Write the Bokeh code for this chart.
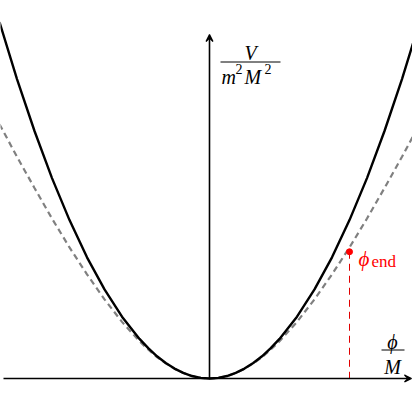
from bokeh.plotting import figure
from bokeh.models import Label, Arrow, VeeHead
from bokeh.embed import file_html
from bokeh.resources import INLINE

# --- data ---
phi = [-3.0, -2.75, -2.5, -2.25, -2.0, -1.75, -1.5, -1.25,
       -1.0, -0.875, -0.75, -0.625, -0.5, -0.375, -0.25, -0.125,
       0.0, 0.125, 0.25, 0.375, 0.5, 0.625, 0.75, 0.875, 1.0,
       1.25, 1.5, 1.75, 2.0, 2.25, 2.5, 2.75, 3.0]
V_solid = [9.0, 7.56, 6.25, 5.06, 4.0, 3.06, 2.25, 1.56,
           1.0, 0.766, 0.56, 0.391, 0.25, 0.141, 0.0625, 0.016,
           0.0, 0.016, 0.0625, 0.141, 0.25, 0.391, 0.56, 0.766, 1.0,
           1.56, 2.25, 3.06, 4.0, 5.06, 6.25, 7.56, 9.0]
V_dashed = [6.42, 5.60, 4.81, 4.04, 3.31, 2.63, 2.0, 1.43,
            0.94, 0.732, 0.54, 0.382, 0.246, 0.139, 0.062, 0.016,
            0.0, 0.016, 0.062, 0.139, 0.246, 0.382, 0.54, 0.732, 0.94,
            1.43, 2.0, 2.63, 3.31, 4.04, 4.81, 5.60, 6.42]
phi_end = [2.0]
V_end = [3.2]

# pixel scale of the reference (px per unit) and origin position
SX, SY = 70.0, 39.6
OX, OY = 209.0, 378.0
W = H = 412

def dx(sx):
    return (sx - OX) / SX

def dy(sy):
    return (OY - sy) / SY

p = figure(width=W, height=H, output_backend="svg", toolbar_location=None,
           x_range=(dx(0), dx(W)), y_range=(dy(H), dy(0)),
           min_border=0)
p.axis.visible = False
p.grid.visible = False
p.outline_line_color = None
p.background_fill_color = "white"
p.border_fill_color = "white"

# curves
p.line(phi, V_dashed, line_color="#808080", line_width=2.2, line_dash="6 4")
p.line(phi, V_solid, line_color="black", line_width=2.4)

# axes with arrows
p.add_layout(Arrow(end=VeeHead(size=7, line_color="black", fill_color="black", line_width=1.2),
                   x_start=dx(3), y_start=0, x_end=dx(411), y_end=0,
                   line_color="black", line_width=1.6))
p.add_layout(Arrow(end=VeeHead(size=7, line_color="black", fill_color="black", line_width=1.2),
                   x_start=0, y_start=0, x_end=0, y_end=dy(34),
                   line_color="black", line_width=1.6))

# phi_end marker and dashed drop line
p.segment(x0=phi_end, y0=V_end, x1=phi_end, y1=[0] * len(phi_end),
          line_color="#e00000", line_width=1, line_dash="7 5")
p.scatter(phi_end, V_end, size=6, color="#ff0000")

SERIF = "Liberation Serif"

def lab(text, sx, sy, size, style="italic", align="center", baseline="alphabetic", color="black"):
    p.add_layout(Label(x=dx(sx), y=dy(sy), text=text, text_font=SERIF,
                       text_font_size=f"{size}px", text_font_style=style,
                       text_align=align, text_baseline=baseline, text_color=color))

# y label: V / (m^2 M^2)
lab("V", 250, 52, 20)
p.segment(x0=[dx(220)], y0=[dy(61.5)], x1=[dx(280)], y1=[dy(61.5)], line_color="black", line_width=1)
lab("m", 221, 76, 20, align="left")
lab("2", 235, 68, 14, style="normal", align="left")
lab("M", 244, 76, 20, align="left")
lab("2", 264, 68, 14, style="normal", align="left")

# x label: phi / M
lab("\u03d5", 392, 341, 20)
p.segment(x0=[dx(381)], y0=[dy(349.5)], x1=[dx(404)], y1=[dy(349.5)], line_color="black", line_width=1)
lab("M", 392, 366, 20)

# phi_end label
lab("\u03d5", 358, 258, 21, align="left", color="#ff0000")
lab("end", 371, 261, 17, style="normal", align="left", color="#ff0000")

open("out.html", "w").write(file_html(p, INLINE))
